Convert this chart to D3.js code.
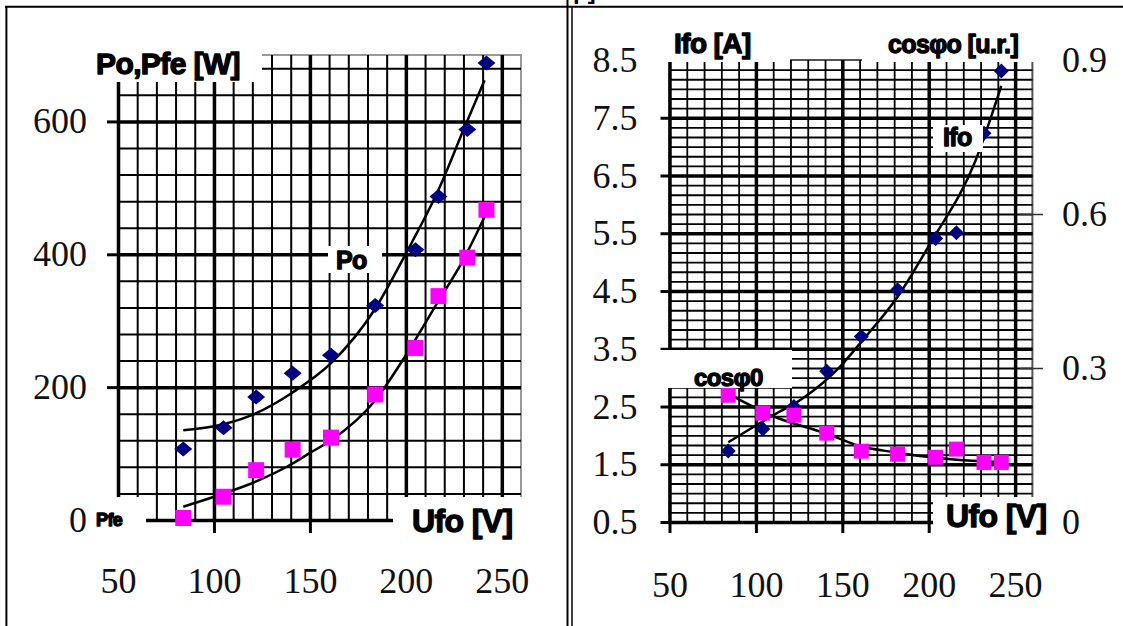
<!DOCTYPE html>
<html>
<head>
<meta charset="utf-8">
<script src="https://cdn.jsdelivr.net/npm/d3@7"></script>
<style>
  body { margin: 0; background: #fff; }
  svg { display: block; }
</style>
</head>
<body>
<div id="chart"></div>
<script>
// ---- left chart: Po, Pfe = f(Ufo)
const ufoL = [84, 105, 122, 141, 161, 184, 205, 217, 232, 242];
const po = [107, 139, 185, 221, 248, 323, 407, 487, 588, 688];
const pfe = [3, 35, 75, 106, 124, 189, 259, 337, 395, 467];
// hand drawn trend curves
const poTrendU = [84, 100, 119, 141, 161, 184, 200, 217, 230, 241];
const poTrend = [135, 141, 157, 192, 236, 318, 401, 497, 587, 662];
const pfeTrendU = [84, 100, 122, 141, 150, 161, 184, 200, 216, 230, 241];
const pfeTrend = [20, 35, 58, 85, 101, 120, 180, 248, 325, 392, 456];

// ---- right chart: Ifo, cosφ0 = f(Ufo)
const ufoR = [84, 104, 122, 141, 161, 182, 204, 216, 232, 242];
const ifo = [1.73, 2.11, 2.5, 3.11, 3.71, 4.52, 5.41, 5.51, 7.23, 8.31];
const cosfi = [0.247, 0.212, 0.208, 0.173, 0.138, 0.132, 0.126, 0.142, 0.116, 0.116];
const ifoTrendU = [84, 110, 127, 149, 161, 182, 201, 227, 242];
const ifoTrend = [1.88, 2.35, 2.64, 3.2, 3.62, 4.4, 5.33, 6.75, 8.05];
const cosTrendU = [86, 110, 141, 160, 180, 199, 218, 242];
const cosTrend = [0.246, 0.206, 0.172, 0.148, 0.136, 0.127, 0.121, 0.117];

// tick labels
const uTicks = [50, 100, 150, 200, 250];
const pTicks = [0, 200, 400, 600];
const iTicks = [0.5, 1.5, 2.5, 3.5, 4.5, 5.5, 6.5, 7.5, 8.5];
const cosTicks = [0, 0.3, 0.6, 0.9];

const serif = "'Liberation Serif', 'Times New Roman', serif";
const sans = "'Liberation Sans', Arial, sans-serif";

const svg = d3.select("#chart")
    .append("svg")
    .attr("width", 1123)
    .attr("height", 626);

// grid lines drawn with axes (like tickSize(-h))
function gridLines(g, x, y, xVals, yVals, width, color) {
    const [xa, xb] = x.range();
    const [ya, yb] = y.range();
    g.append("g")
        .attr("transform", `translate(0,${ya})`)
        .call(d3.axisBottom(x).tickValues(xVals).tickSize(-(ya - yb)).tickFormat(""))
        .selectAll("line").attr("stroke", color).attr("stroke-width", width);
    g.append("g")
        .attr("transform", `translate(${xa},0)`)
        .call(d3.axisLeft(y).tickValues(yVals).tickSize(-(xb - xa)).tickFormat(""))
        .selectAll("line").attr("stroke", color).attr("stroke-width", width);
    g.selectAll(".domain").remove();
}

function whiteBox(g, x, y, w, h) {
    g.append("rect").attr("x", x).attr("y", y).attr("width", w).attr("height", h).attr("fill", "#fff");
}

function boldLabel(g, x, y, txt, size) {
    g.append("text")
        .attr("x", x).attr("y", y)
        .attr("font-family", sans)
        .attr("font-weight", "bold")
        .attr("font-size", size)
        .attr("letter-spacing", -0.6)
        .attr("stroke", "#000")
        .attr("stroke-width", 1.3)
        .attr("stroke-linejoin", "round")
        .attr("fill", "#000")
        .text(txt);
}

function diamonds(g, xs, ys, x, y, w, h) {
    g.selectAll(null).data(d3.zip(xs, ys)).join("path")
        .attr("transform", d => `translate(${x(d[0])},${y(d[1])})`)
        .attr("d", `M0,${-h}L${w},0L0,${h}L${-w},0Z`)
        .attr("fill", "#000080");
}

function squares(g, xs, ys, x, y, s) {
    g.selectAll(null).data(d3.zip(xs, ys)).join("rect")
        .attr("x", d => x(d[0]) - s / 2)
        .attr("y", d => y(d[1]) - s / 2)
        .attr("width", s).attr("height", s)
        .attr("fill", "#ff00ff");
}

function trend(g, xs, ys, x, y) {
    const line = d3.line().x(d => x(d[0])).y(d => y(d[1])).curve(d3.curveMonotoneX);
    g.append("path")
        .datum(d3.zip(xs, ys))
        .attr("fill", "none")
        .attr("stroke", "#000")
        .attr("stroke-width", 2.5)
        .attr("d", line);
}

function styleTickText(sel) {
    sel.attr("font-family", serif).attr("font-size", 36).attr("color", "#111");
}

// ---------------- left chart ----------------
function renderLeft() {
    const g = svg.append("g");
    const x = d3.scaleLinear().domain([50, 260]).range([118, 521]);
    const y = d3.scaleLinear().domain([0, 700]).range([520, 55]);

    // plot border (grey) then grid
    g.append("rect")
        .attr("x", x(50)).attr("y", y(700))
        .attr("width", x(260) - x(50)).attr("height", y(0) - y(700))
        .attr("fill", "none").attr("stroke", "#999").attr("stroke-width", 2);
    gridLines(g, x, y, d3.range(50, 251, 10), d3.range(0, 700, 40), 2, "#000");
    gridLines(g, x, y, uTicks, pTicks, 3.5, "#000");

    // outer tick marks
    const ya = g.append("g")
        .attr("transform", `translate(${x(50)},0)`)
        .call(d3.axisLeft(y).tickValues(pTicks).tickSize(11).tickPadding(20));
    ya.selectAll("line").attr("stroke", "#000").attr("stroke-width", 3);
    styleTickText(ya);
    const xa = g.append("g")
        .attr("transform", `translate(0,${y(0)})`)
        .call(d3.axisBottom(x).tickValues(uTicks).tickSize(13).tickPadding(34));
    xa.selectAll("line").attr("stroke", "#000").attr("stroke-width", 3);
    styleTickText(xa);
    g.selectAll(".domain").remove();

    trend(g, poTrendU, poTrend, x, y);
    trend(g, pfeTrendU, pfeTrend, x, y);
    diamonds(g, ufoL, po, x, y, 9, 7.5);
    squares(g, ufoL, pfe, x, y, 16);

    // annotation boxes
    whiteBox(g, 85, 33, 177, 49);
    boldLabel(g, 96, 74, "Po,Pfe [W]", 30);
    whiteBox(g, 328, 246, 54, 27);
    boldLabel(g, 336, 269, "Po", 25);
    whiteBox(g, 90, 497, 56, 45);
    boldLabel(g, 96, 526, "Pfe", 18);
    whiteBox(g, 393, 497, 132, 48);
    boldLabel(g, 412, 532, "Ufo [V]", 32);
}

// ---------------- right chart ----------------
function renderRight() {
    const g = svg.append("g");
    const x = d3.scaleLinear().domain([50, 260]).range([669.5, 1032.4]);
    const y = d3.scaleLinear().domain([0.5, 8.5]).range([522, 60]);
    const y2 = d3.scaleLinear().domain([0, 0.9]).range([522, 60]);

    g.append("rect")
        .attr("x", x(50)).attr("y", y(8.5))
        .attr("width", x(260) - x(50)).attr("height", y(0.5) - y(8.5))
        .attr("fill", "none").attr("stroke", "#555").attr("stroke-width", 2);
    gridLines(g, x, y, d3.range(50, 251, 10), d3.range(0, 48).map(k => 0.5 + k / 6), 1.8, "#000");
    gridLines(g, x, y, uTicks, iTicks.slice(0, 8), 3.5, "#000");

    const ya = g.append("g")
        .attr("transform", `translate(${x(50)},0)`)
        .call(d3.axisLeft(y).tickValues(iTicks).tickSize(9).tickPadding(23).tickFormat(d3.format(".1f")));
    ya.selectAll("line").attr("stroke", "#000").attr("stroke-width", 3);
    styleTickText(ya);
    const yb = g.append("g")
        .attr("transform", "translate(1020,0)")
        .call(d3.axisRight(y2).tickValues(cosTicks).tickSize(23).tickPadding(19).tickFormat(d => d === 0 ? "0" : d3.format(".1f")(d)));
    yb.selectAll(".tick line").attr("stroke", "#333").attr("stroke-width", 1.5)
        .filter(d => d === 0 || d === 0.9).remove();
    styleTickText(yb);
    const xa = g.append("g")
        .attr("transform", `translate(0,${y(0.5)})`)
        .call(d3.axisBottom(x).tickValues(uTicks).tickSize(11).tickPadding(38));
    xa.selectAll("line").attr("stroke", "#000").attr("stroke-width", 3);
    styleTickText(xa);
    g.selectAll(".domain").remove();

    trend(g, ifoTrendU, ifoTrend, x, y);
    trend(g, cosTrendU, cosTrend, x, y2);
    diamonds(g, ufoR, ifo, x, y, 7.5, 7.5);
    squares(g, ufoR, cosfi, x, y2, 15);

    whiteBox(g, 655, 18, 135, 44);
    boldLabel(g, 674, 53, "Ifo [A]", 28);
    whiteBox(g, 862, 18, 178, 44);
    boldLabel(g, 888, 53, "cosφo [u.r.]", 25);
    whiteBox(g, 933, 125, 50, 27);
    boldLabel(g, 943, 146, "Ifo", 25);
    whiteBox(g, 655, 350, 137, 38);
    boldLabel(g, 694, 386, "cosφ0", 24);
    whiteBox(g, 933, 497, 127, 42);
    boldLabel(g, 946, 527, "Ufo [V]", 32);
}

renderLeft();
renderRight();

// table frame around the two charts
const frame = svg.append("g").attr("stroke", "#000");
frame.append("line").attr("x1", 5).attr("x2", 1123).attr("y1", 6.7).attr("y2", 6.7).attr("stroke-width", 2);
frame.append("line").attr("x1", 6.4).attr("x2", 6.4).attr("y1", 6).attr("y2", 626).attr("stroke-width", 2);
frame.append("line").attr("x1", 567.5).attr("x2", 567.5).attr("y1", 0).attr("y2", 626).attr("stroke-width", 2);
frame.append("line").attr("x1", 572).attr("x2", 572).attr("y1", 6.7).attr("y2", 626).attr("stroke-width", 1.5);

// bottom of the clipped title above the table
svg.append("text")
    .attr("x", 573).attr("y", -1)
    .attr("font-family", sans).attr("font-weight", "bold").attr("font-size", 24)
    .text("p]");
</script>
</body>
</html>
